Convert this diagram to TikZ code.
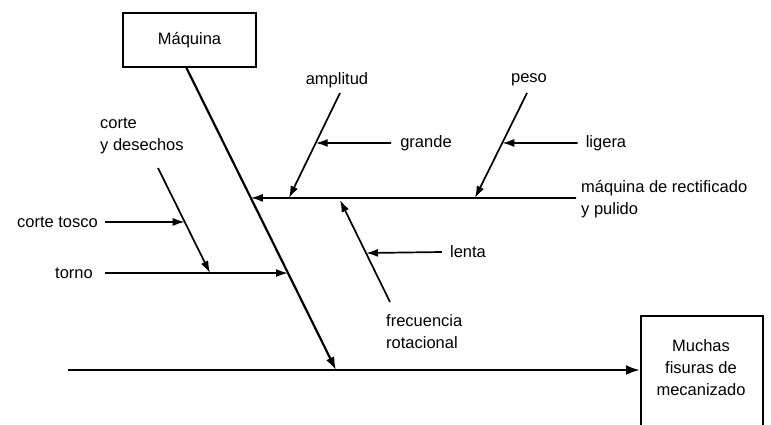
\documentclass[tikz,border=0pt]{standalone}
\usepackage{fontspec}
\setmainfont{Liberation Sans}
\usetikzlibrary{arrows.meta,calc}
\begin{document}
\begin{tikzpicture}[x=1pt,y=-1pt,
  lbl/.style={inner sep=2pt, font=\fontsize{16.5}{22}\selectfont},
  thin/.style={line width=1.7pt},
  arr/.style={thin,-{Latex[length=12pt,width=8pt]}},
  bigarr/.style={line width=2.2pt,-{Latex[length=13pt,width=9pt]}}]
\useasboundingbox (0,0) rectangle (771,425);
% boxes
\node[draw, line width=1.5pt, minimum width=133pt, minimum height=54pt, lbl] (mq) at (189.5,40) {Máquina};
\node[draw, line width=1.5pt, minimum width=122pt, minimum height=125pt, anchor=north west] (effbox) at (640,315) {};
\node[lbl, align=center] (effect) at (701,368) {Muchas\\fisuras de\\mecanizado};
% spine
\coordinate (tail) at (68,370);
\draw[line width=2.6pt,-{Latex[length=14pt,width=10pt]}] (tail) -- (tail -| effbox.west);
% main bone
\coordinate (mtop) at (186,67);
\coordinate (mbot) at (336,370);
\draw[bigarr] (mtop) -- (mbot);
% grinding machine branch
\node[lbl, anchor=west, align=left] (rect) at (579,199.5) {máquina de rectificado\\y pulido};
\coordinate (hR) at (576,198);
\coordinate (hL) at ($(mtop)!0.432!(mbot)$);
\draw[arr] (hR) -- (hL);
% amplitud
\node[lbl] (amp) at (337,80) {amplitud};
\coordinate (a1) at (340,93);
\coordinate (a2) at (289,198);
\draw[arr] (a1) -- (a2);
\node[lbl] (grande) at (426,143) {grande};
\coordinate (ghit) at ($(a1)!0.476!(a2)$);
\draw[arr] ([xshift=-7pt]grande.west) -- (ghit);
% peso
\node[lbl] (peso) at (529,80) {peso};
\coordinate (p1) at (527,93);
\coordinate (p2) at (475,198);
\draw[arr] (p1) -- (p2);
\node[lbl] (ligera) at (606,143) {ligera};
\coordinate (lhit) at ($(p1)!0.476!(p2)$);
\draw[arr] ([xshift=-6pt]ligera.west) -- (lhit);
% frecuencia rotacional
\node[lbl, anchor=north west, align=left] (frec) at (384,312) {frecuencia\\rotacional};
\coordinate (f1) at (390,302);
\coordinate (f2) at (340,200);
\draw[arr] (f1) -- (f2);
\node[lbl] (lenta) at (468,252) {lenta};
\coordinate (lnhit) at ($(f1)!0.48!(f2)$);
\draw[arr] ([xshift=-6pt]lenta.west) -- (lnhit);
% corte y desechos
\node[lbl, anchor=west, align=left] (cyd) at (98,136) {corte\\y desechos};
\coordinate (c1) at (158,168);
\coordinate (c2) at (210,273);
\draw[arr] (c1) -- (c2);
\node[lbl, anchor=east] (ctosco) at (100,222) {corte tosco};
\coordinate (cthit) at ($(c1)!0.514!(c2)$);
\draw[arr] ([xshift=5pt]ctosco.east) -- (cthit);
% torno
\node[lbl, anchor=east] (torno) at (95,273) {torno};
\coordinate (thit) at ($(mtop)!0.68!(mbot)$);
\draw[arr] ([xshift=10pt]torno.east) -- (thit);
\end{tikzpicture}
\end{document}
